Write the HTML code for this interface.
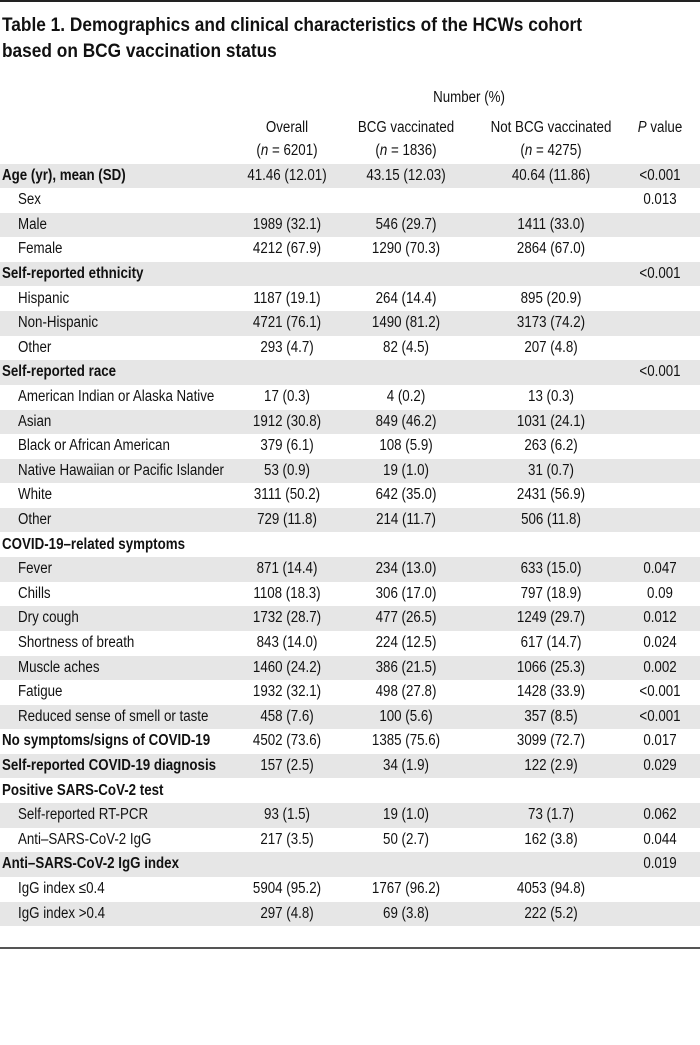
<!DOCTYPE html>
<html><head><meta charset="utf-8">
<style>
body{margin:0;width:700px;height:1045px;background:#fff;position:relative;overflow:hidden;font-family:"Liberation Sans Narrow","Liberation Sans",sans-serif;color:#111;}
.a{position:absolute;white-space:nowrap;}
.t{font-weight:bold;font-size:19px;left:2px;transform:scaleX(0.91);transform-origin:left center}
.h{font-size:15.5px;text-align:center;line-height:23px}
.row{position:absolute;left:0;width:700px;height:24.6px;font-size:15.5px;line-height:24.6px}
.row.s{background:#e6e6e6}
.row span{position:absolute;white-space:nowrap}
.l{transform:scaleX(0.86);transform-origin:left center}
.c{transform:translateX(-50%) scaleX(0.86);transform-origin:center center}
</style></head><body>
<div class="a" style="left:0;top:0;width:700px;height:2px;background:#222"></div>
<div class="a t" style="top:15px">Table 1. Demographics and clinical characteristics of the HCWs cohort</div>
<div class="a t" style="top:41px">based on BCG vaccination status</div>
<div class="a h" style="left:469px;top:86px;transform:translateX(-50%) scaleX(0.86)">Number (%)</div>
<div class="a h" style="left:287px;top:116px;transform:translateX(-50%) scaleX(0.86)">Overall<br>(<i>n</i> = 6201)</div>
<div class="a h" style="left:406px;top:116px;transform:translateX(-50%) scaleX(0.86)">BCG vaccinated<br>(<i>n</i> = 1836)</div>
<div class="a h" style="left:551px;top:116px;transform:translateX(-50%) scaleX(0.86)">Not BCG vaccinated<br>(<i>n</i> = 4275)</div>
<div class="a h" style="left:660px;top:116px;transform:translateX(-50%) scaleX(0.86)"><i>P</i> value</div>
<div id="rows"></div>
<div class="a" style="left:0;top:947px;width:700px;height:2px;background:#555"></div>
<script>
const rowsData=[
["Age (yr), mean (SD)",0,"41.46 (12.01)","43.15 (12.03)","40.64 (11.86)","<0.001"],
["Sex",1,"","","","0.013"],
["Male",1,"1989 (32.1)","546 (29.7)","1411 (33.0)",""],
["Female",1,"4212 (67.9)","1290 (70.3)","2864 (67.0)",""],
["Self-reported ethnicity",0,"","","","<0.001"],
["Hispanic",1,"1187 (19.1)","264 (14.4)","895 (20.9)",""],
["Non-Hispanic",1,"4721 (76.1)","1490 (81.2)","3173 (74.2)",""],
["Other",1,"293 (4.7)","82 (4.5)","207 (4.8)",""],
["Self-reported race",0,"","","","<0.001"],
["American Indian or Alaska Native",1,"17 (0.3)","4 (0.2)","13 (0.3)",""],
["Asian",1,"1912 (30.8)","849 (46.2)","1031 (24.1)",""],
["Black or African American",1,"379 (6.1)","108 (5.9)","263 (6.2)",""],
["Native Hawaiian or Pacific Islander",1,"53 (0.9)","19 (1.0)","31 (0.7)",""],
["White",1,"3111 (50.2)","642 (35.0)","2431 (56.9)",""],
["Other",1,"729 (11.8)","214 (11.7)","506 (11.8)",""],
["COVID-19–related symptoms",0,"","","",""],
["Fever",1,"871 (14.4)","234 (13.0)","633 (15.0)","0.047"],
["Chills",1,"1108 (18.3)","306 (17.0)","797 (18.9)","0.09"],
["Dry cough",1,"1732 (28.7)","477 (26.5)","1249 (29.7)","0.012"],
["Shortness of breath",1,"843 (14.0)","224 (12.5)","617 (14.7)","0.024"],
["Muscle aches",1,"1460 (24.2)","386 (21.5)","1066 (25.3)","0.002"],
["Fatigue",1,"1932 (32.1)","498 (27.8)","1428 (33.9)","<0.001"],
["Reduced sense of smell or taste",1,"458 (7.6)","100 (5.6)","357 (8.5)","<0.001"],
["No symptoms/signs of COVID-19",0,"4502 (73.6)","1385 (75.6)","3099 (72.7)","0.017"],
["Self-reported COVID-19 diagnosis",0,"157 (2.5)","34 (1.9)","122 (2.9)","0.029"],
["Positive SARS-CoV-2 test",0,"","","",""],
["Self-reported RT-PCR",1,"93 (1.5)","19 (1.0)","73 (1.7)","0.062"],
["Anti–SARS-CoV-2 IgG",1,"217 (3.5)","50 (2.7)","162 (3.8)","0.044"],
["Anti–SARS-CoV-2 IgG index",0,"","","","0.019"],
["IgG index ≤0.4",1,"5904 (95.2)","1767 (96.2)","4053 (94.8)",""],
["IgG index >0.4",1,"297 (4.8)","69 (3.8)","222 (5.2)",""]
];
const colX=[287,406,551,660];
const colNames=["overall","bcg","not-bcg","p-value"];
const host=document.getElementById('rows');
rowsData.forEach((r,i)=>{
  const row=document.createElement('div');
  row.className='row'+(i%2===0?' s':'');
  row.style.top=(163.5+i*24.6)+'px';
  
  
  const lab=document.createElement('span');
  lab.className='l';
  lab.textContent=r[0];
  lab.style.left=(r[1]?18:2)+'px';
  if(!r[1]) lab.style.fontWeight='bold';
  
  
  row.appendChild(lab);
  for(let k=0;k<4;k++){
    if(!r[k+2]) continue;
    const c=document.createElement('span');
    c.className='c';
    c.textContent=r[k+2];
    c.style.left=colX[k]+'px';
    
    
    row.appendChild(c);
  }
  host.appendChild(row);
});
</script>
</body></html>
